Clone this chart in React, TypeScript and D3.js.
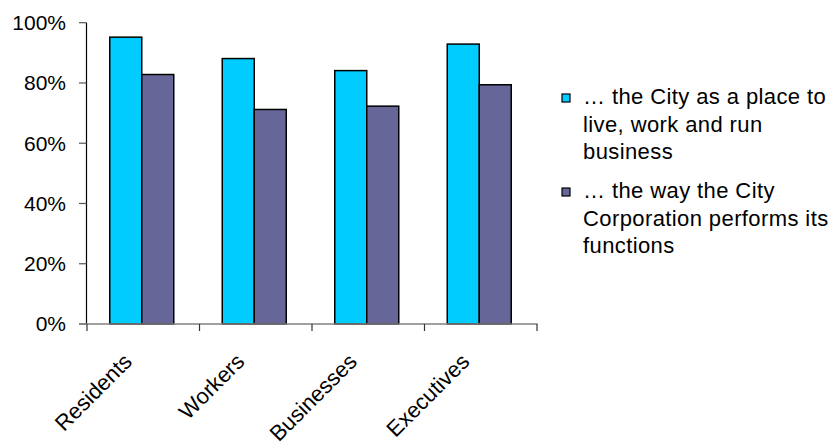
import React from "react";
import * as d3 from "d3";

const categories = ["Residents", "Workers", "Businesses", "Executives"];
const cityPlace = [0.952, 0.881, 0.841, 0.929];
const cityCorp = [0.828, 0.712, 0.723, 0.794];
const yTicks = [0, 0.2, 0.4, 0.6, 0.8, 1.0];
const seriesNames = ["cityPlace", "cityCorp"];
const legendLines = [
  ["… the City as a place to", "live, work and run", "business"],
  ["… the way the City", "Corporation performs its", "functions"],
];
const colors = ["#00CCFF", "#666699"];

const W = 836;
const H = 445;
const FONT = "'Liberation Sans', Arial, sans-serif";

export default function App() {
  const y = d3.scaleLinear().domain([0, 1]).range([324, 22.7]);
  const x = d3.scaleBand<string>().domain(categories).range([87, 537]).paddingInner(0).paddingOuter(0);
  const x1 = d3.scaleBand<string>().domain(seriesNames).range([0, 64]);
  const series = [cityPlace, cityCorp];
  const fmt = d3.format(".0%");
  const boundaries = [...categories.map((c) => x(c) as number), 537];

  return (
    <svg width={W} height={H} style={{ position: "absolute", left: 0, top: 0, background: "#fff" }}>
      {/* bars */}
      {categories.map((c, i) => {
        const cx = (x(c) as number) + x.bandwidth() / 2;
        const gx = cx - 33.5;
        return (
          <g key={c}>
            {series.map((s, j) => (
              <rect
                key={j}
                x={gx + (x1(seriesNames[j]) as number)}
                y={y(s[i])}
                width={x1.bandwidth()}
                height={y(0) - y(s[i])}
                fill={colors[j]}
                stroke="#000"
                strokeWidth={1.5}
              />
            ))}
          </g>
        );
      })}
      {/* y axis */}
      <line x1={86.5} x2={86.5} y1={22.7} y2={324} stroke="#000" strokeWidth={1.2} />
      {yTicks.map((t) => (
        <g key={t}>
          <line x1={79} x2={86.5} y1={y(t)} y2={y(t)} stroke="#555" strokeWidth={1.2} />
          <text
            x={66}
            y={y(t)}
            dy="0.35em"
            textAnchor="end"
            fontFamily={FONT}
            fontSize={21}
            fill="#000"
          >
            {fmt(t)}
          </text>
        </g>
      ))}
      {/* x axis */}
      <line x1={79} x2={537.5} y1={324} y2={324} stroke="#808080" strokeWidth={1.5} />
      {boundaries.map((b, i) => (
        <line key={i} x1={b} x2={b} y1={324} y2={331} stroke="#333" strokeWidth={1.2} />
      ))}
      {categories.map((c) => {
        const cx = (x(c) as number) + x.bandwidth() / 2 - 10;
        return (
          <text
            key={c}
            transform={`translate(${cx},${363}) rotate(-45)`}
            textAnchor="end"
            fontFamily={FONT}
            fontSize={22}
            fill="#000"
          >
            {c}
          </text>
        );
      })}
      {/* legend */}
      {legendLines.map((lines, i) => {
        const base = i === 0 ? 104 : 198;
        return (
          <g key={i}>
            <rect x={562} y={base - 10} width={8} height={8} fill={colors[i]} stroke="#000" strokeWidth={1.2} />
            {lines.map((l, k) => (
              <text
                key={k}
                x={583}
                y={base + k * 27.5}
                fontFamily={FONT}
                fontSize={22}
                letterSpacing={0.4}
                fill="#000"
              >
                {l}
              </text>
            ))}
          </g>
        );
      })}
    </svg>
  );
}
